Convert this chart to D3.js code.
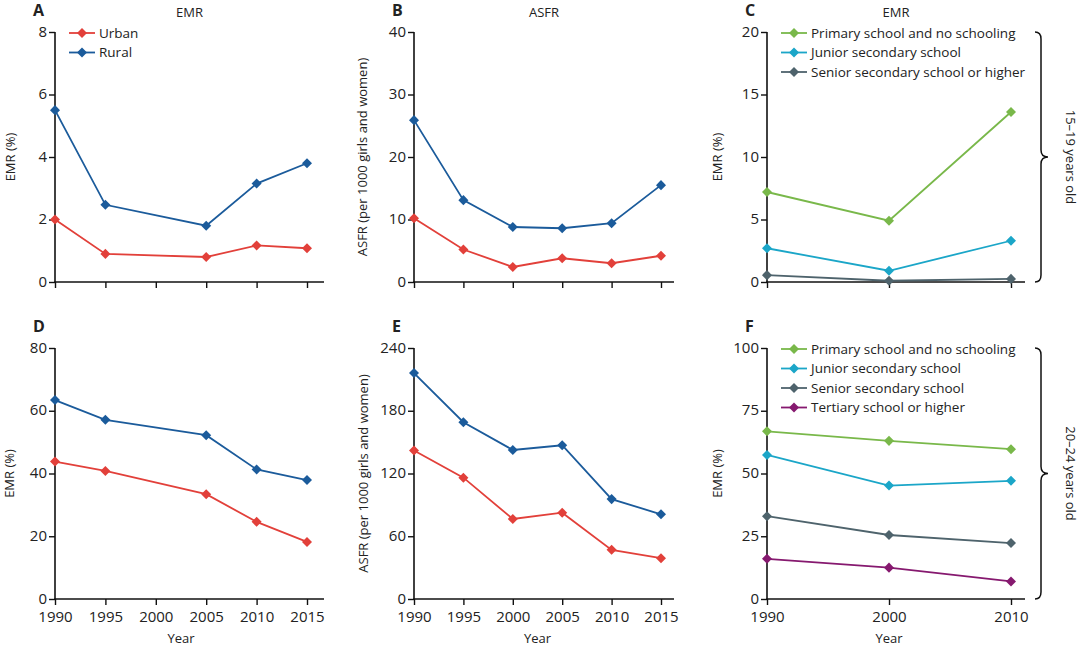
<!doctype html>
<html lang="en">
<head>
  <meta charset="UTF-8">
  <title>EMR and ASFR</title>
  <script src="https://cdn.jsdelivr.net/npm/d3@7"></script>
  <style>
    body { margin: 0; background: #fff; }
    text { font-family: "Open Sans", "Noto Sans", sans-serif; fill: #222; }
  </style>
</head>
<body>
<svg width="1080" height="647" id="chart"></svg>
<script>
  // years
  var yearsAll = [1990, 1995, 2000, 2005, 2010, 2015];
  var yearsEmr = [1990, 1995, 2005, 2010, 2015];
  var yearsEdu = [1990, 2000, 2010];

  // A: EMR 15-19 by residence
  var emrUrban1519 = [2.0, 0.9, 0.8, 1.17, 1.08];
  var emrRural1519 = [5.5, 2.47, 1.8, 3.15, 3.8];
  // B: ASFR 15-19
  var asfrUrban1519 = [10.2, 5.2, 2.4, 3.8, 3.0, 4.2];
  var asfrRural1519 = [25.9, 13.1, 8.8, 8.6, 9.4, 15.5];
  // C: EMR 15-19 by education
  var eduPrimary1519 = [7.2, 4.9, 13.6];
  var eduJunior1519 = [2.7, 0.9, 3.3];
  var eduSenior1519 = [0.55, 0.1, 0.25];
  // D: EMR 20-24 by residence
  var emrUrban2024 = [43.8, 40.8, 33.4, 24.6, 18.2];
  var emrRural2024 = [63.4, 57.1, 52.2, 41.3, 37.9];
  // E: ASFR 20-24
  var asfrUrban2024 = [142, 116, 76.5, 82.5, 47, 39];
  var asfrRural2024 = [216, 169, 142.5, 147, 95.5, 81];
  // F: EMR 20-24 by education
  var eduPrimary2024 = [66.8, 63.0, 59.7];
  var eduJunior2024 = [57.4, 45.2, 47.1];
  var eduSenior2024 = [33.0, 25.5, 22.3];
  var eduTertiary2024 = [16.0, 12.5, 7.0];

  var red = '#e2403a', blue = '#1b5b9b', green = '#79b84a', cyan = '#1ba6c8', grey = '#4e636c', purple = '#86196f';

  var svg = d3.select('#chart');
  var cols = [{left: 55, right: 307, end: 324}, {left: 414, right: 661, end: 674}, {left: 767, right: 1011, end: 1025}];
  var rows = [{top: 32, bottom: 282}, {top: 348, bottom: 599}];

  var panels = [
    {letter: 'A', col: 0, row: 0, title: 'EMR', ylab: 'EMR (%)', yoff: 40, ymax: 8, yticks: [0, 2, 4, 6, 8], xt: yearsAll,
      series: [{name: 'Urban', c: red, x: yearsEmr, v: emrUrban1519}, {name: 'Rural', c: blue, x: yearsEmr, v: emrRural1519}], legend: true},
    {letter: 'B', col: 1, row: 0, title: 'ASFR', ylab: 'ASFR (per 1000 girls and women)', yoff: 47, ymax: 40, yticks: [0, 10, 20, 30, 40], xt: yearsAll,
      series: [{c: red, x: yearsAll, v: asfrUrban1519}, {c: blue, x: yearsAll, v: asfrRural1519}]},
    {letter: 'C', col: 2, row: 0, title: 'EMR', ylab: 'EMR (%)', yoff: 45, ymax: 20, yticks: [0, 5, 10, 15, 20], xt: yearsEdu, brace: '15–19 years old',
      series: [{name: 'Primary school and no schooling', c: green, x: yearsEdu, v: eduPrimary1519},
               {name: 'Junior secondary school', c: cyan, x: yearsEdu, v: eduJunior1519},
               {name: 'Senior secondary school or higher', c: grey, x: yearsEdu, v: eduSenior1519}], legend: true},
    {letter: 'D', col: 0, row: 1, ylab: 'EMR (%)', yoff: 41, ymax: 80, yticks: [0, 20, 40, 60, 80], xt: yearsAll, labels: true,
      series: [{c: red, x: yearsEmr, v: emrUrban2024}, {c: blue, x: yearsEmr, v: emrRural2024}]},
    {letter: 'E', col: 1, row: 1, ylab: 'ASFR (per 1000 girls and women)', yoff: 46, ymax: 240, yticks: [0, 60, 120, 180, 240], xt: yearsAll, labels: true,
      series: [{c: red, x: yearsAll, v: asfrUrban2024}, {c: blue, x: yearsAll, v: asfrRural2024}]},
    {letter: 'F', col: 2, row: 1, ylab: 'EMR (%)', yoff: 45, ymax: 100, yticks: [0, 25, 50, 75, 100], xt: yearsEdu, labels: true, brace: '20–24 years old',
      series: [{name: 'Primary school and no schooling', c: green, x: yearsEdu, v: eduPrimary2024},
               {name: 'Junior secondary school', c: cyan, x: yearsEdu, v: eduJunior2024},
               {name: 'Senior secondary school', c: grey, x: yearsEdu, v: eduSenior2024},
               {name: 'Tertiary school or higher', c: purple, x: yearsEdu, v: eduTertiary2024}], legend: true}
  ];

  var diamond = d3.symbol().type(d3.symbolDiamond2).size(64);

  panels.forEach(function (p) {
    var c = cols[p.col], r = rows[p.row];
    var x = d3.scaleLinear().domain([p.xt[0], p.xt[p.xt.length - 1]]).range([c.left, c.right]);
    var y = d3.scaleLinear().domain([0, p.ymax]).range([r.bottom, r.top]);
    var g = svg.append('g');

    // axes
    var ya = g.append('g').attr('transform', 'translate(' + c.left + ',0)')
      .call(d3.axisLeft(y).tickValues(p.yticks).tickSize(6).tickPadding(2));
    var xa = g.append('g').attr('transform', 'translate(0,' + r.bottom + ')')
      .call(d3.axisBottom(x).tickValues(p.xt).tickSize(6).tickPadding(6)
        .tickFormat(p.labels ? d3.format('d') : ''));
    [ya, xa].forEach(function (a) {
      a.select('.domain').remove();
      a.selectAll('line').attr('stroke', '#111').attr('stroke-width', 1.4);
      a.selectAll('text').attr('font-size', 15).attr('fill', '#222');
    });
    ya.selectAll('text').attr('dy', '0.28em');
    g.append('line').attr('x1', c.left).attr('x2', c.left).attr('y1', r.top).attr('y2', r.bottom + 0.7)
      .attr('stroke', '#111').attr('stroke-width', 1.6);
    g.append('line').attr('x1', c.left - 0.7).attr('x2', c.end).attr('y1', r.bottom).attr('y2', r.bottom)
      .attr('stroke', '#111').attr('stroke-width', 1.6);

    // panel letter and title
    g.append('text').attr('x', c.left - 22).attr('y', r.top - 16).attr('font-size', 16).attr('font-weight', 'bold')
      .text(p.letter);
    if (p.title) {
      g.append('text').attr('x', (c.left + c.end) / 2).attr('y', r.top - 15).attr('text-anchor', 'middle')
        .attr('font-size', 13).text(p.title);
    }
    g.append('text').attr('transform', 'translate(' + (c.left - p.yoff) + ',' + ((r.top + r.bottom) / 2) + ') rotate(-90)')
      .attr('text-anchor', 'middle').attr('font-size', 13).text(p.ylab);
    if (p.labels) {
      g.append('text').attr('x', (c.left + c.right) / 2).attr('y', r.bottom + 44).attr('text-anchor', 'middle')
        .attr('font-size', 13).text('Year');
    }

    // series
    var line = d3.line().x(function (d) { return x(d[0]); }).y(function (d) { return y(d[1]); });
    p.series.slice().reverse().forEach(function (s) {
      var pts = s.x.map(function (yr, i) { return [yr, s.v[i]]; });
      g.append('path').datum(pts).attr('d', line).attr('fill', 'none').attr('stroke', s.c).attr('stroke-width', 1.8);
      g.selectAll(null).data(pts).enter().append('path')
        .attr('transform', function (d) { return 'translate(' + x(d[0]) + ',' + y(d[1]) + ')'; })
        .attr('d', diamond).attr('fill', s.c);
    });

    // legend
    if (p.legend) {
      var lx = c.left + 14;
      p.series.forEach(function (s, i) {
        var ly = r.top + 1 + i * 19.5;
        g.append('line').attr('x1', lx).attr('x2', lx + 26).attr('y1', ly).attr('y2', ly)
          .attr('stroke', s.c).attr('stroke-width', 1.8);
        g.append('path').attr('transform', 'translate(' + (lx + 13) + ',' + ly + ')').attr('d', diamond).attr('fill', s.c);
        g.append('text').attr('x', lx + 30).attr('y', ly).attr('dy', '0.35em').attr('font-size', 13.5).text(s.name);
      });
    }

    // brace
    if (p.brace) {
      var bx = 1041, t = r.top, b = r.bottom, m = (t + b) / 2;
      var d = 'M' + (bx - 6) + ',' + t +
        ' Q' + bx + ',' + t + ' ' + bx + ',' + (t + 7) +
        ' L' + bx + ',' + (m - 7) +
        ' Q' + bx + ',' + m + ' ' + (bx + 7) + ',' + m +
        ' Q' + bx + ',' + m + ' ' + bx + ',' + (m + 7) +
        ' L' + bx + ',' + (b - 7) +
        ' Q' + bx + ',' + b + ' ' + (bx - 6) + ',' + b;
      g.append('path').attr('d', d).attr('fill', 'none').attr('stroke', '#111').attr('stroke-width', 1.5);
      g.append('text').attr('transform', 'translate(1066,' + m + ') rotate(90)')
        .attr('text-anchor', 'middle').attr('font-size', 13).text(p.brace);
    }
  });
</script>
</body>
</html>
